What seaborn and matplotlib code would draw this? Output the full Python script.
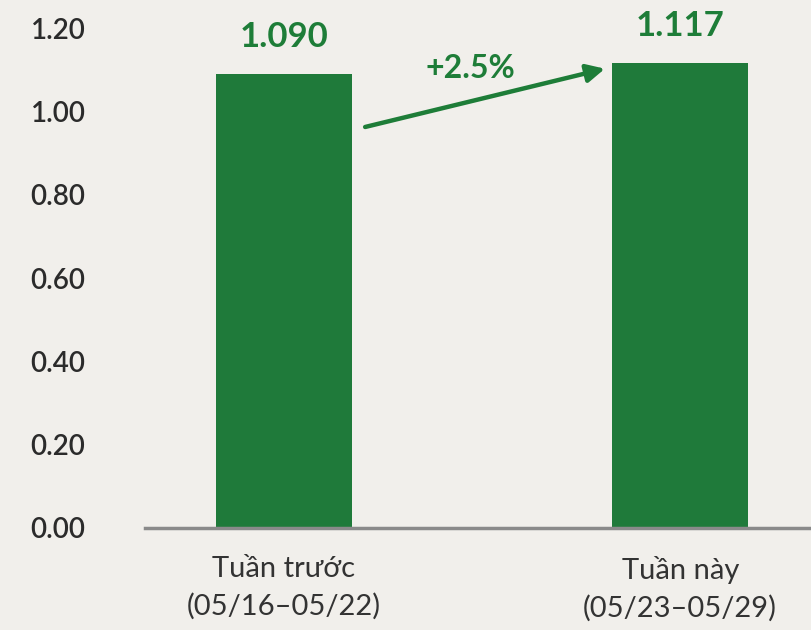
import matplotlib
matplotlib.use("Agg")
import matplotlib.pyplot as plt
import seaborn as sns
import pandas as pd

# ── data ────────────────────────────────────────────────────────────────────
weeks = ["Tuần trước\n(05/16–05/22)", "Tuần này\n(05/23–05/29)"]
values = [1.090, 1.117]
value_labels = ["1.090", "1.117"]
change_label = "+2.5%"
yticks = [0.0, 0.2, 0.4, 0.6, 0.8, 1.0, 1.2]

# ── colours ─────────────────────────────────────────────────────────────────
BG = "#f1efeb"
GREEN = "#1f7a3a"
TEXT_GREEN = "#1e7d38"
DARK = "#2b2b2b"

sns.set_theme(style="white")
plt.rcParams["font.family"] = ["Lato", "DejaVu Sans"]

df = pd.DataFrame({"week": weeks, "value": values})

fig = plt.figure(figsize=(8.11, 6.30), dpi=100, facecolor=BG)
ax = fig.add_axes([0.179, 0.162, 0.821, 0.838])
ax.set_facecolor(BG)

sns.barplot(data=df, x="week", y="value", color=GREEN, width=0.343,
            saturation=1, linewidth=0, ax=ax)

ax.set_xlim(-0.35, 1.33)
ax.set_ylim(0, 1.268)
ax.set_yticks(yticks)
ax.set_yticklabels([f"{t:.2f}" for t in yticks])
ax.set_xlabel("")
ax.set_ylabel("")

for s in ["top", "right", "left"]:
    ax.spines[s].set_visible(False)
ax.spines["bottom"].set_color("#8a8a8a")
ax.spines["bottom"].set_linewidth(2.5)

ax.tick_params(axis="y", length=0, pad=43, labelsize=20, labelcolor=DARK)
ax.tick_params(axis="x", length=0, pad=20, labelsize=21, labelcolor="#333333")
for lbl in ax.get_yticklabels():
    lbl.set_fontweight("semibold")
for lbl in ax.get_xticklabels():
    lbl.set_linespacing(1.5)

# value labels above bars
for i, (v, txt) in enumerate(zip(values, value_labels)):
    ax.annotate(txt, xy=(i, v), xytext=(0, 15), textcoords="offset points",
                ha="center", va="bottom", fontsize=25, fontweight="bold",
                color=TEXT_GREEN)

# change arrow
ax.annotate("", xy=(0.81, 1.103), xytext=(0.205, 0.963),
            arrowprops=dict(arrowstyle="-|>,head_length=0.9,head_width=0.45",
                            color=TEXT_GREEN, lw=3.2, shrinkA=0, shrinkB=0))
ax.text(0.47, 1.103, change_label, ha="center", va="center", fontsize=23,
        fontweight="bold", color=TEXT_GREEN)

fig.savefig("out.png", dpi=100, facecolor=BG)
